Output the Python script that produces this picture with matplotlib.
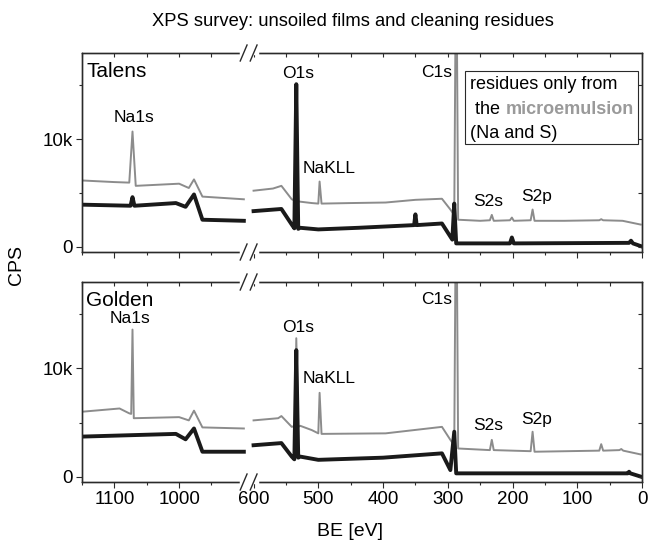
import numpy as np
import matplotlib
matplotlib.use("Agg")
import matplotlib.pyplot as plt
from matplotlib.lines import Line2D
from matplotlib.patches import Rectangle

plt.rcParams['font.family'] = ['Liberation Sans', 'DejaVu Sans']

nan = np.nan

# ---- spectra (BE in eV, counts) ----
talens_gray_ev = [1150, 1100, 1077, 1072, 1067, 1000, 985, 977, 964, 900, nan,
                  600, 570, 557, 541, 537, 534, 531, 510, 500, 498, 495, 450, 396,
                  350, 309, 296, 290, 287, 284, 250, 235, 232, 229, 204, 201, 198,
                  172, 169, 166, 120, 66, 63, 60, 30, 2]
talens_gray_cps = [6150, 6000, 5950, 10700, 5650, 5850, 5450, 6250, 4650, 4400, nan,
                   5200, 5400, 5650, 4400, 4300, 12400, 4200, 4050, 4000, 6050, 4000, 4050, 4100,
                   4350, 4450, 3450, 2950, 30000, 2500, 2400, 2450, 2950, 2400, 2450, 2700, 2400,
                   2450, 3450, 2400, 2400, 2450, 2550, 2450, 2400, 2050]

talens_black_ev = [1150, 1075, 1072, 1069, 1005, 990, 977, 964, 900, nan,
                   600, 557, 541, 537, 534, 531, 528, 500, 438, 352, 350, 348,
                   309, 293, 290, 287, 283, 204, 201, 198, 20, 17, 14, 2]
talens_black_cps = [3900, 3800, 4600, 3800, 4050, 3700, 4850, 2500, 2400, nan,
                    3300, 3500, 2050, 1700, 15100, 1650, 1750, 1600, 1750, 2000, 3000, 2000,
                    2150, 650, 4000, 300, 300, 300, 850, 300, 350, 550, 300, 50]

golden_gray_ev = [1150, 1092, 1077, 1074, 1072, 1070, 1000, 985, 977, 964, 900, nan,
                  600, 562, 557, 541, 536, 534, 531, 528, 510, 500, 498, 495, 396,
                  309, 296, 290, 287, 284, 235, 232, 229, 172, 169, 166,
                  66, 63, 60, 35, 32, 29, 2]
golden_gray_cps = [6000, 6300, 5850, 5800, 13600, 5400, 5500, 5200, 6100, 4550, 4450, nan,
                   5200, 5400, 5600, 4600, 4700, 12800, 4600, 4700, 4300, 4000, 7750, 3950, 4000,
                   4600, 3400, 2900, 30000, 2600, 2450, 3400, 2450, 2350, 4150, 2300,
                   2400, 3000, 2400, 2450, 2550, 2400, 2050]

golden_black_ev = [1150, 1005, 990, 977, 964, 900, nan,
                   600, 557, 541, 537, 534, 531, 528, 500, 400, 309, 296, 290, 287,
                   100, 22, 20, 18, 2]
golden_black_cps = [3700, 3950, 3450, 4450, 2300, 2300, nan,
                    2900, 3100, 1850, 1600, 11700, 1750, 1850, 1550, 1750, 2150, 600, 4150, 300,
                    300, 300, 450, 300, 0]

# peak labels: (text, BE, cps) per panel
talens_labels = [("Na1s", 1070, 12000), ("O1s", 531, 16100), ("NaKLL", 483, 7300),
                 ("C1s", 318, 16200), ("S2s", 238, 4200), ("S2p", 163, 4650)]
golden_labels = [("Na1s", 1076, 14600), ("O1s", 531, 13800), ("NaKLL", 483, 9100),
                 ("C1s", 318, 16400), ("S2s", 238, 4750), ("S2p", 163, 5300)]

major_x = [1100, 1000, 600, 500, 400, 300, 200, 100, 0]
major_x_labels = ["1100", "1000", "600", "500", "400", "300", "200", "100", "0"]
minor_x = [1150, 1050, 950, 550, 450, 350, 250, 150, 50]

GRAY = "#8c8c8c"
BLACK = "#1a1a1a"
SPINE = "#2a2a2a"


# broken BE axis: 900..600 squeezed into a short gap
def fwd(x):
    x = np.asarray(x, float)
    return np.where(x <= 600, x, np.where(x >= 900, x - 285, 600 + (x - 600) * 0.05))


def inv(u):
    u = np.asarray(u, float)
    return np.where(u <= 600, u, np.where(u >= 615, u + 285, 600 + (u - 600) * 20))


fig = plt.figure(figsize=(6.48, 5.44), dpi=100)
W, H = 648.0, 544.0
ax1 = fig.add_axes([82 / W, 1 - 252 / H, 560 / W, 199 / H])
ax2 = fig.add_axes([82 / W, 1 - 482 / H, 560 / W, 200 / H])


def setup(ax, name, gray_ev, gray_cps, black_ev, black_cps, labels, show_xlabels):
    ax.set_xscale('function', functions=(fwd, inv))
    ax.plot(gray_ev, gray_cps, color=GRAY, lw=1.4)
    ax.plot(black_ev, black_cps, color=BLACK, lw=2.8)
    ax.set_xlim(1150, 0)
    ax.set_ylim(-500, 18000)
    ax.set_xticks(major_x)
    ax.set_xticks(minor_x, minor=True)
    ax.set_xticklabels(major_x_labels if show_xlabels else [])
    ax.set_yticks([0, 10000])
    ax.set_yticklabels(["0", "10k"])
    ax.set_yticks([5000, 15000], minor=True)
    ax.tick_params(which='major', direction='out', length=4.5, width=0.8, color=SPINE,
                   labelsize=13.5, pad=2)
    ax.tick_params(which='minor', direction='out', length=2.5, width=0.8, color=SPINE)
    for s in ax.spines.values():
        s.set_color(SPINE)
        s.set_linewidth(0.9)
    ax.text(0.008, 0.955, name, transform=ax.transAxes, fontsize=15, ha='left', va='top')
    for txt, ev, cps in labels:
        ax.text(ev, cps, txt, fontsize=12.5, ha='center', va='center')

    # inward ticks on top and right
    axt = ax.twiny()
    axt.set_xscale('function', functions=(fwd, inv))
    axt.set_xlim(1150, 0)
    axt.set_xticks(major_x)
    axt.set_xticks(minor_x, minor=True)
    axt.set_xticklabels([])
    axt.tick_params(which='both', direction='in', length=3, width=0.8, color=SPINE)
    axr = ax.twinx()
    axr.set_ylim(-500, 18000)
    axr.set_yticks([0, 5000, 10000, 15000])
    axr.set_yticklabels([])
    axr.tick_params(which='both', direction='in', length=3, width=0.8, color=SPINE)
    for a in (axt, axr):
        for s in a.spines.values():
            s.set_color(SPINE)
            s.set_linewidth(0.9)

    # break marks "//" on top and bottom spines
    pos = ax.get_position()
    frac = (fwd(1150) - fwd(752)) / fwd(1150)
    cx = pos.x0 + frac * pos.width
    for yy in (pos.y0, pos.y1):
        fig.add_artist(Line2D([cx - 8 / W, cx + 8 / W], [yy, yy], color='white', lw=2.5,
                              transform=fig.transFigure, zorder=10))
        for off in (-5 / W, 5 / W):
            fig.add_artist(Line2D([cx + off - 3.4 / W, cx + off + 3.4 / W],
                                  [yy - 8 / H, yy + 8 / H], color=SPINE, lw=1.0,
                                  transform=fig.transFigure, zorder=11))


setup(ax1, "Talens", talens_gray_ev, talens_gray_cps, talens_black_ev, talens_black_cps,
      talens_labels, False)
setup(ax2, "Golden", golden_gray_ev, golden_gray_cps, golden_black_ev, golden_black_cps,
      golden_labels, True)

# note box in the upper panel
ax1.add_patch(Rectangle((0.684, 0.545), 0.308, 0.365, transform=ax1.transAxes,
                        facecolor='white', edgecolor=SPINE, lw=0.8, zorder=5))
ax1.text(0.693, 0.84, "residues only from", transform=ax1.transAxes, fontsize=13,
         ha='left', va='center', zorder=6)
ax1.text(0.693, 0.718, " the", transform=ax1.transAxes, fontsize=13,
         ha='left', va='center', zorder=6)
ax1.text(0.756, 0.718, "microemulsion", transform=ax1.transAxes, fontsize=13,
         ha='left', va='center', color="#9a9a9a", fontweight='bold', zorder=6)
ax1.text(0.693, 0.595, "(Na and S)", transform=ax1.transAxes, fontsize=13,
         ha='left', va='center', zorder=6)

fig.text(353 / W, 1 - 22 / H, "XPS survey: unsoiled films and cleaning residues",
         fontsize=13.2, ha='center', va='center')
fig.text(16 / W, 1 - 265 / H, "CPS", fontsize=14, rotation=90, ha='center', va='center')
fig.text(350 / W, 1 - 532 / H, "BE [eV]", fontsize=14, ha='center', va='center')

fig.savefig("out.png", dpi=100)
